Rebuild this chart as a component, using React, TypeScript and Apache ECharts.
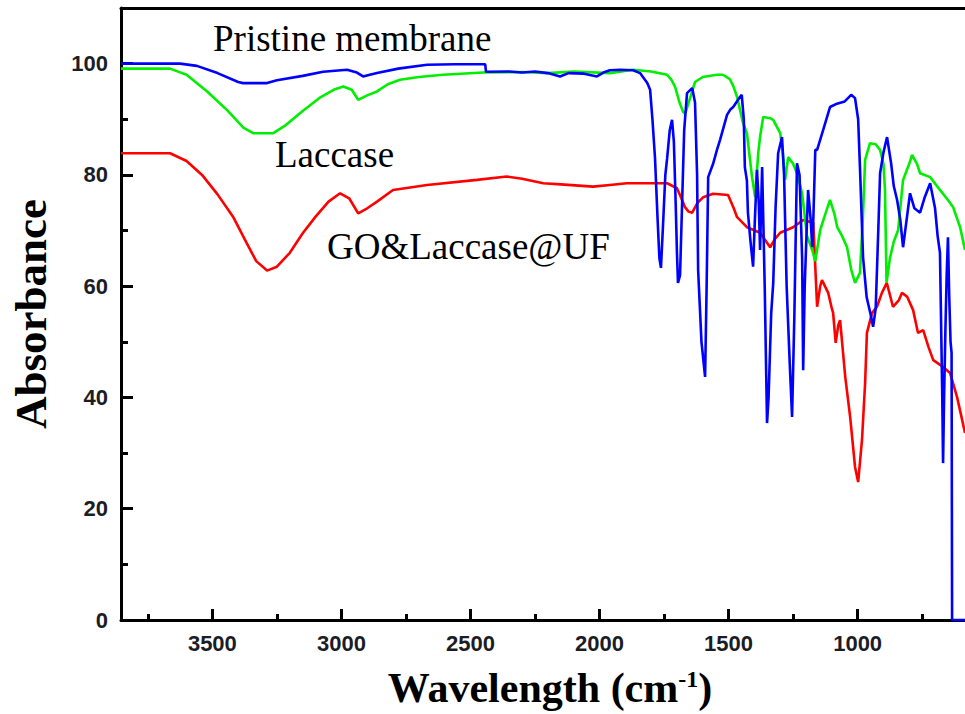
import React, { useEffect, useRef } from "react";
import * as echarts from "echarts";

// Axis ranges and tick values
const xRange = [584, 3854];
const yRange = [0, 110];
const xMajorTicks = [1000, 1500, 2000, 2500, 3000, 3500];
const xMinorTicks = [750, 1250, 1750, 2250, 2750, 3250, 3750];
const yMajorTicks = [0, 20, 40, 60, 80, 100];
const yMinorTicks = [10, 30, 50, 70, 90];

const seriesNames = ["Pristine membrane", "Laccase", "GO&Laccase@UF"];

// [wavenumber (cm-1), absorbance]
const pristine = [
  [3854, 100], [3625, 100], [3560, 99.6], [3480, 98.3], [3400, 96.7], [3381, 96.5], [3288, 96.5],
  [3250, 97.0], [3150, 97.8], [3071, 98.55], [2978, 98.9], [2940, 98.4], [2916, 97.7], [2890, 98.0],
  [2862, 98.3], [2780, 99.1], [2668, 99.8], [2560, 99.9], [2443, 99.9], [2440, 98.55], [2350, 98.6],
  [2300, 98.4], [2250, 98.6], [2200, 98.3], [2153, 97.7], [2120, 98.3], [2060, 98.2], [2010, 97.7],
  [1985, 98.4], [1960, 98.8], [1920, 98.9], [1870, 98.8], [1843, 98.3], [1815, 96.5], [1804, 95.3],
  [1795, 90], [1785, 83], [1775, 72], [1768, 65], [1762, 63.3], [1755, 70], [1745, 80], [1738, 83],
  [1728, 88], [1719, 89.9], [1712, 86], [1705, 75], [1700, 66], [1696, 60.6], [1688, 62], [1680, 75],
  [1672, 88], [1661, 94.7], [1641, 95.6], [1630, 93], [1622, 80], [1618, 62.9], [1605, 50], [1591, 43.7],
  [1585, 60], [1579, 79.6], [1560, 82], [1545, 84.5], [1533, 86.3], [1506, 90.8], [1494, 91.7],
  [1482, 92.2], [1456, 94], [1449, 94.4], [1441, 90], [1437, 81.4], [1429, 79], [1425, 73.2], [1415, 68],
  [1405, 63.5], [1398, 72], [1390, 80.9], [1383, 75], [1378, 66.5], [1370, 81.4], [1360, 60],
  [1351, 35.4], [1345, 40], [1335, 55], [1327, 60.6], [1318, 74], [1308, 83.9], [1293, 86.8], [1285, 80],
  [1275, 60], [1262, 45], [1254, 36.5], [1245, 55], [1235, 82.1], [1225, 80], [1215, 65], [1211, 44.9],
  [1205, 60], [1192, 77.3], [1182, 72], [1176, 67], [1172, 71.4], [1164, 84.5], [1157, 84.5], [1134, 88],
  [1107, 92.2], [1080, 92.8], [1050, 93.2], [1025, 94.4], [1010, 93.8], [998, 90], [991, 81.4],
  [979, 65.2], [965, 58], [950, 55], [940, 52.7], [930, 56], [920, 70], [913, 80.3], [900, 84],
  [886, 86.8], [870, 82], [860, 78], [847, 75.5], [835, 72], [824, 67], [810, 72], [797, 76.7],
  [780, 74], [758, 73.2], [740, 76], [719, 78.5], [700, 74], [690, 69], [681, 66], [672, 40],
  [669, 28.2], [665, 40], [660, 52], [655, 62], [650, 68.8], [645, 58], [640, 50], [636, 48],
  [634, 0], [584, 0],
];

const laccase = [
  [3854, 99.1], [3664, 99.1], [3600, 98], [3520, 95], [3440, 91.5], [3380, 88.5], [3342, 87.5],
  [3264, 87.5], [3220, 88.8], [3150, 91.5], [3080, 94], [3030, 95.3], [2993, 95.9], [2960, 95.3],
  [2935, 93.5], [2900, 94.3], [2862, 95], [2820, 96.3], [2773, 97.1], [2700, 97.6], [2606, 98],
  [2451, 98.4], [2300, 98.5], [2200, 98.3], [2100, 98.6], [1960, 98.3], [1870, 98.9], [1800, 98.6],
  [1738, 98], [1720, 97], [1707, 95.8], [1690, 93], [1676, 91.3], [1668, 91], [1648, 94], [1630, 96.7],
  [1600, 97.6], [1545, 98], [1522, 98], [1495, 97.2], [1482, 96], [1467, 94], [1445, 89.5], [1429, 87.5],
  [1409, 79.6], [1397, 76], [1385, 84], [1378, 86.8], [1366, 90.4], [1339, 90.2], [1327, 89.9],
  [1300, 87.5], [1290, 84], [1281, 79.1], [1269, 83.2], [1250, 82], [1235, 80.3], [1215, 76.7],
  [1196, 69], [1176, 66.5], [1164, 64.5], [1145, 70.1], [1125, 73], [1107, 75.5], [1090, 73],
  [1079, 70.6], [1060, 69], [1041, 67], [1025, 63], [1010, 60.6], [991, 62.4], [980, 72], [971, 82.7],
  [952, 85.7], [930, 85.5], [913, 84.5], [900, 82], [894, 77.3], [888, 60.6], [875, 65], [860, 68],
  [843, 70.1], [824, 79.1], [800, 82], [789, 83.6], [770, 82], [758, 80.3], [719, 79.6], [681, 77.3],
  [650, 75.5], [630, 74.2], [603, 70.6], [584, 66.5],
];

const goLaccase = [
  [3854, 83.9], [3664, 83.9], [3600, 82.5], [3540, 80], [3480, 76.5], [3420, 72.5], [3370, 68],
  [3330, 64.5], [3288, 62.8], [3250, 63.5], [3200, 66], [3150, 69.5], [3100, 72.5], [3050, 75.2],
  [3005, 76.7], [2970, 75.8], [2935, 73.1], [2900, 74], [2862, 75.2], [2800, 77.3], [2668, 78.2],
  [2475, 79.1], [2359, 79.7], [2300, 79.3], [2218, 78.5], [2150, 78.3], [2025, 77.9], [1960, 78.2],
  [1894, 78.5], [1738, 78.5], [1700, 77.6], [1680, 75.5], [1669, 74.2], [1655, 73.4], [1641, 73.2],
  [1620, 75], [1598, 76], [1560, 76.6], [1502, 76.4], [1480, 74], [1467, 72.4], [1429, 70.6],
  [1378, 69.6], [1339, 67], [1320, 68.5], [1300, 69.6], [1250, 70.6], [1211, 71.9], [1172, 71.4],
  [1164, 63.4], [1157, 56.3], [1145, 60], [1138, 61.1], [1114, 58.8], [1100, 56], [1095, 55.2],
  [1085, 49.8], [1075, 53], [1068, 53.9], [1048, 43.7], [1029, 36.5], [1010, 27.5], [998, 24.8],
  [983, 32.4], [971, 42.6], [964, 51.6], [944, 55.2], [925, 56.3], [906, 58.8], [887, 60.6],
  [863, 56.3], [840, 57.5], [828, 58.8], [808, 58.1], [785, 55.7], [766, 51.6], [746, 52.1],
  [725, 49], [707, 46.7], [669, 45.5], [642, 44.4], [615, 40.1], [600, 37], [584, 33.6],
];

const seriesData = [pristine, laccase, goLaccase];
const seriesColors = ["#0000ff", "#00ee00", "#ff0000"];

export default function App() {
  const ref = useRef<HTMLDivElement>(null);

  useEffect(() => {
    if (!ref.current) return;
    const chart = echarts.init(ref.current, null, { renderer: "svg" });

    const black = "#000";
    const tickFont = {
      fontFamily: "Liberation Sans, Arial, sans-serif",
      fontWeight: "bold" as const,
      fontSize: 22,
      color: "#1c1c24",
    };
    const serif = "Liberation Serif, Times New Roman, serif";

    const xBase = {
      type: "value" as const,
      min: xRange[0],
      max: xRange[1],
      inverse: true,
      splitLine: { show: false },
    };
    const yBase = {
      type: "value" as const,
      min: yRange[0],
      max: yRange[1],
      splitLine: { show: false },
    };

    chart.setOption({
      animation: false,
      backgroundColor: "#ffffff",
      grid: { left: 121, right: 0, top: 8, bottom: 94 },
      xAxis: [
        {
          ...xBase,
          position: "bottom",
          axisLine: { show: true, lineStyle: { color: black, width: 3 } },
          axisTick: {
            show: true,
            inside: true,
            length: 11,
            customValues: xMajorTicks,
            lineStyle: { color: black, width: 3 },
          },
          axisLabel: {
            ...tickFont,
            margin: 12,
            customValues: xMajorTicks,
            formatter: (v: number) => String(Math.round(v)),
          },
          name: "Wavelength (cm{sup|-1})",
          nameLocation: "middle",
          nameGap: 47,
          nameTextStyle: {
            fontFamily: serif,
            fontWeight: "bold",
            fontSize: 42,
            color: black,
            padding: [0, 0, 0, 14],
            rich: {
              sup: {
                fontFamily: serif,
                fontWeight: "bold",
                fontSize: 24,
                color: black,
                verticalAlign: "top",
              },
            },
          },
        },
        {
          ...xBase,
          position: "bottom",
          axisLine: { show: false },
          axisTick: {
            show: true,
            inside: true,
            length: 6,
            customValues: xMinorTicks,
            lineStyle: { color: black, width: 3 },
          },
          axisLabel: { show: false },
        },
        {
          ...xBase,
          position: "top",
          axisLine: { show: true, lineStyle: { color: black, width: 3 } },
          axisTick: { show: false },
          axisLabel: { show: false },
        },
      ],
      yAxis: [
        {
          ...yBase,
          position: "left",
          axisLine: { show: true, lineStyle: { color: black, width: 3 } },
          axisTick: {
            show: true,
            inside: true,
            length: 12,
            customValues: yMajorTicks,
            lineStyle: { color: black, width: 3 },
          },
          axisLabel: {
            ...tickFont,
            margin: 13,
            customValues: yMajorTicks,
            formatter: (v: number) => String(Math.round(v)),
          },
          name: "Absorbance",
          nameLocation: "middle",
          nameRotate: 90,
          nameGap: 68,
          nameTextStyle: {
            fontFamily: serif,
            fontWeight: "bold",
            fontSize: 45,
            color: black,
          },
        },
        {
          ...yBase,
          position: "left",
          axisLine: { show: false },
          axisTick: {
            show: true,
            inside: true,
            length: 7,
            customValues: yMinorTicks,
            lineStyle: { color: black, width: 3 },
          },
          axisLabel: { show: false },
        },
      ],
      series: seriesData.map((d, i) => ({
        name: seriesNames[i],
        type: "line",
        xAxisIndex: 0,
        yAxisIndex: 0,
        data: d,
        showSymbol: false,
        symbol: "none",
        clip: false,
        lineStyle: { color: seriesColors[i], width: 2.6 },
        z: 5 - i,
      })),
      graphic: [
        {
          type: "text",
          left: 213,
          top: 20,
          style: { text: seriesNames[0], font: `37px ${serif}`, fill: black },
        },
        {
          type: "text",
          left: 275,
          top: 136,
          style: { text: seriesNames[1], font: `37px ${serif}`, fill: black },
        },
        {
          type: "text",
          left: 327,
          top: 228,
          style: { text: seriesNames[2], font: `37px ${serif}`, fill: black },
        },
      ],
    });

    return () => chart.dispose();
  }, []);

  return (
    <div
      ref={ref}
      style={{ position: "fixed", left: 0, top: 0, width: 965, height: 714, background: "#fff" }}
    />
  );
}
